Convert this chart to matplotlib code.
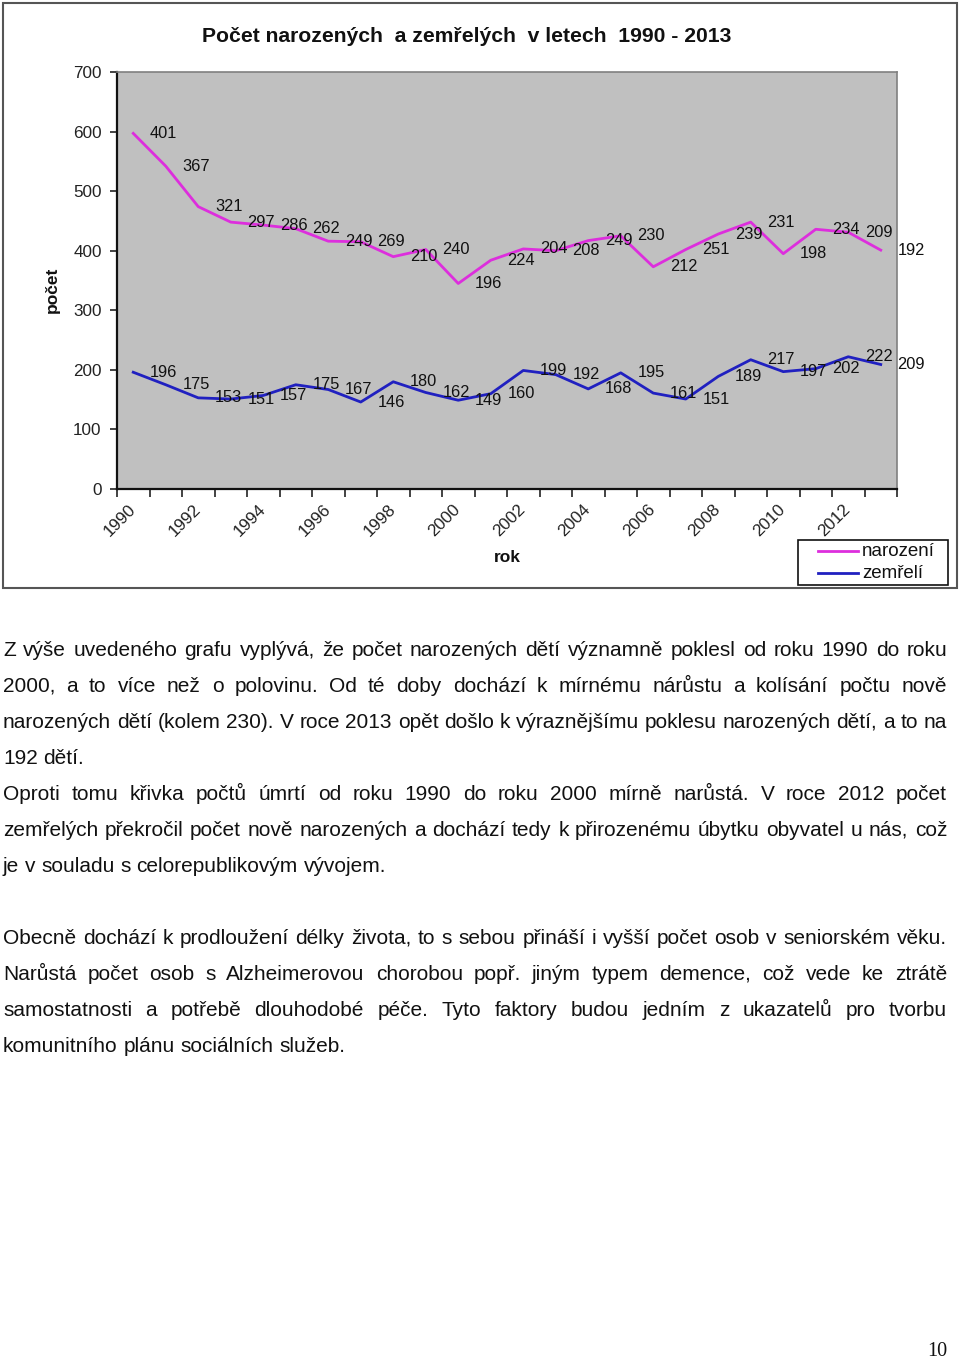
import numpy as np
import matplotlib
matplotlib.use("Agg")
import matplotlib.pyplot as plt
from matplotlib.lines import Line2D
from matplotlib.patches import Rectangle

plt.rcParams["font.family"] = ["Liberation Sans", "DejaVu Sans"]

# data (Excel stacked line: narození drawn on top of zemřelí)
years = list(range(1990, 2014))
narozeni = [401, 367, 321, 297, 286, 262, 249, 269, 210, 240, 196, 224,
            204, 208, 249, 230, 212, 251, 239, 231, 198, 234, 209, 192]
zemreli = [196, 175, 153, 151, 157, 175, 167, 146, 180, 162, 149, 160,
           199, 192, 168, 195, 161, 151, 189, 217, 197, 202, 222, 209]
yticks = [0, 100, 200, 300, 400, 500, 600, 700]
series_names = ["narození", "zemřelí"]

title = "Počet narozených  a zemřelých  v letech  1990 - 2013"
paragraph = [
    ("Z výše uvedeného grafu vyplývá, že počet narozených dětí významně poklesl od roku 1990 do roku", True),
    ("2000, a to více než o polovinu. Od té doby dochází k mírnému nárůstu a kolísání počtu nově", True),
    ("narozených dětí (kolem 230). V roce 2013 opět došlo k výraznějšímu poklesu narozených dětí, a to na", True),
    ("192 dětí.", False),
    ("Oproti tomu křivka počtů úmrtí od roku 1990 do roku 2000 mírně narůstá. V roce 2012 počet", True),
    ("zemřelých překročil počet nově narozených a dochází tedy k přirozenému úbytku obyvatel u nás, což", True),
    ("je v souladu s celorepublikovým vývojem.", False),
    ("", False),
    ("Obecně dochází k prodloužení délky života, to s sebou přináší i vyšší počet osob v seniorském věku.", True),
    ("Narůstá počet osob s Alzheimerovou chorobou popř. jiným typem demence, což vede ke ztrátě", True),
    ("samostatnosti a potřebě dlouhodobé péče. Tyto faktory budou jedním z ukazatelů pro tvorbu", True),
    ("komunitního plánu sociálních služeb.", False),
]

W, H = 960, 1360
PINK, BLUE = "#DD2EDD", "#2020C0"

fig = plt.figure(figsize=(W / 100, H / 100), dpi=100)
fx = lambda px: px / W
fy = lambda py: 1 - py / H

# chart frame
fig.patches.append(Rectangle((fx(3), fy(588)), fx(957) - fx(3), fy(3) - fy(588),
                             transform=fig.transFigure, fill=False,
                             edgecolor="#555555", lw=1.5))

ax = fig.add_axes([fx(117), fy(489), fx(897) - fx(117), fy(72) - fy(489)])
ax.set_facecolor("#C0C0C0")
x = np.arange(len(years))
top = np.array(zemreli) + np.array(narozeni)
ax.plot(x, zemreli, color=BLUE, lw=2)
ax.plot(x, top, color=PINK, lw=2)
for xi, yv, lab in zip(x, zemreli, zemreli):
    ax.annotate(str(lab), (xi, yv), xytext=(12, 0), textcoords="offset points",
                ha="left", va="center", fontsize=11.8, color="#111111",
                annotation_clip=False)
for xi, yv, lab in zip(x, top, narozeni):
    ax.annotate(str(lab), (xi, yv), xytext=(12, 0), textcoords="offset points",
                ha="left", va="center", fontsize=11.8, color="#111111",
                annotation_clip=False)

ax.set_xlim(-0.5, len(years) - 0.5)
ax.set_ylim(0, 700)
ax.set_yticks(yticks)
ax.set_yticklabels([str(v) for v in yticks], fontsize=12.3, color="#222222")
ax.tick_params(axis="y", direction="out", length=5, width=1.2, pad=6, colors="#222222")
ax.set_xticks(np.arange(len(years) + 1) - 0.5)
ax.set_xticklabels([])
ax.tick_params(axis="x", which="major", direction="out", length=6, width=1.2, color="#222222")
ax.set_xticks(x[::2], minor=True)
ax.set_xticklabels([str(y) for y in years[::2]], minor=True, rotation=45,
                   ha="right", va="center", rotation_mode="anchor", fontsize=12.3,
                   color="#222222")
ax.tick_params(axis="x", which="minor", length=0, pad=13)
for s in ("left", "bottom"):
    ax.spines[s].set_color("#111111")
    ax.spines[s].set_linewidth(1.6)
for s in ("top", "right"):
    ax.spines[s].set_color("#808080")
    ax.spines[s].set_linewidth(1.2)

fig.text(fx(467), fy(37), title, ha="center", va="center", fontsize=15.2,
         fontweight="bold", color="#111111")
fig.text(fx(52), fy(290), "počet", rotation=90, ha="center", va="center",
         fontsize=12.5, fontweight="bold", color="#111111")
fig.text(fx(507), fy(558), "rok", ha="center", va="center",
         fontsize=12.5, fontweight="bold", color="#111111")

# legend box drawn like Excel's
fig.patches.append(Rectangle((fx(798), fy(585)), fx(948) - fx(798), fy(540) - fy(585),
                             transform=fig.transFigure, facecolor="white",
                             edgecolor="#111111", lw=1.2))
for k, (name, col) in enumerate(zip(series_names, [PINK, BLUE])):
    yy = 551 + 22 * k
    fig.add_artist(Line2D([fx(818), fx(858)], [fy(yy), fy(yy)], color=col, lw=2,
                          transform=fig.transFigure))
    fig.text(fx(862), fy(yy), name, ha="left", va="center", fontsize=13.5,
             color="#111111")

# justified body text
renderer = fig.canvas.get_renderer()
x0, x1 = 3, 947
tkw = dict(fontsize=15, color="#111111", va="baseline", ha="left")
sp = fig.text(0, 0, "a a", **tkw)
nsp = fig.text(0, 0, "aa", **tkw)
space_w = sp.get_window_extent(renderer).width - nsp.get_window_extent(renderer).width
sp.remove(); nsp.remove()
for i, (line, just) in enumerate(paragraph):
    if not line:
        continue
    base = 656 + 36 * i
    words = line.split(" ")
    texts = [fig.text(0, fy(base), w, **tkw) for w in words]
    widths = [t.get_window_extent(renderer).width for t in texts]
    gap = (x1 - x0 - sum(widths)) / (len(words) - 1) if just else space_w
    pos = x0
    for t, w in zip(texts, widths):
        t.set_x(fx(pos))
        pos += w + gap

fig.text(fx(947), fy(1356), "10", ha="right", va="baseline", fontsize=14.5,
         family=["Liberation Serif", "DejaVu Serif"], color="#111111")

fig.savefig("out.png", dpi=100)
